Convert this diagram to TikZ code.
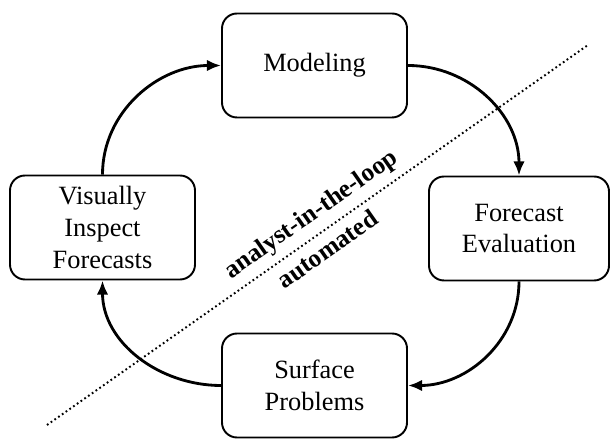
\documentclass[tikz,border=0pt]{standalone}
\usepackage{fontspec}
\setmainfont{Liberation Serif}
\usetikzlibrary{arrows.meta}

\begin{document}
\begin{tikzpicture}[
        stage/.style={draw,rounded corners=0.3cm,line width=1.1pt,minimum width=3.7cm,minimum height=2.08cm,align=center,font=\fontsize{15}{18}\selectfont},
        flow/.style={line width=1.6pt,-{Latex[length=8pt,width=6.5pt]}},
        side/.style={font=\fontsize{14.5}{16}\selectfont\bfseries,sloped,inner sep=1pt}
    ]

        \useasboundingbox (0,0) rectangle (12.22,8.78);

        % Stages of the loop
        \node[stage] (modeling) at (6.29,7.47) {Modeling};
        \node[stage,minimum width=3.6cm] (evaluation) at (10.38,4.21) {Forecast\\Evaluation};
        \node[stage] (problems) at (6.29,1.07) {Surface\\Problems};
        \node[stage] (inspect) at (2.05,4.23) {Visually\\Inspect\\Forecasts};

        % Divider between analyst and automated parts
        \coordinate (lowend) at (0.94,0.28);
        \coordinate (highend) at (11.76,7.88);
        \draw[line width=1.1pt,dash pattern=on 1pt off 1.6pt] (lowend) -- (highend)
            node[side,above=3pt,pos=0.51] (analyst) {analyst-in-the-loop}
            node[side,below=3pt,pos=0.50] (automated) {automated};

        % Loop arrows
        \draw[flow] (modeling.east) to[out=0,in=90] (evaluation.north);
        \draw[flow] (evaluation.south) to[out=-90,in=0] (problems.east);
        \draw[flow] (problems.west) to[out=180,in=-90] (inspect.south);
        \draw[flow] (inspect.north) to[out=90,in=180] (modeling.west);

    \end{tikzpicture}
\end{document}
